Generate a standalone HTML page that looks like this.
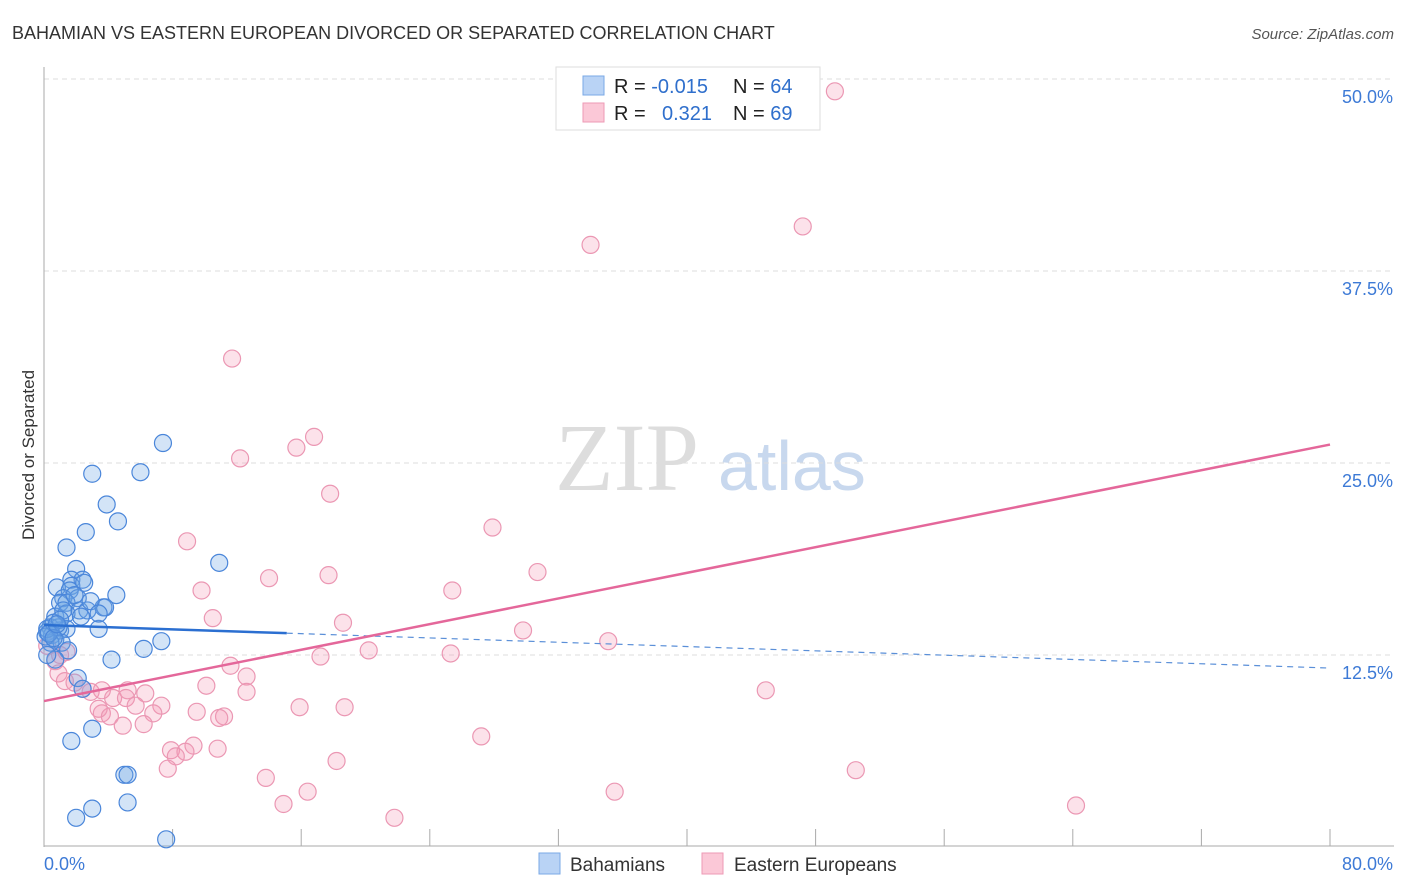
<!DOCTYPE html>
<html><head><meta charset="utf-8"><style>
body{margin:0;background:#fff;font-family:"Liberation Sans",sans-serif;}
#wrap{position:relative;width:1406px;height:892px;overflow:hidden;}
</style></head><body>
<div id="wrap">
<svg id="svg" width="1406" height="892" xmlns="http://www.w3.org/2000/svg">
<text x="12" y="39" font-size="18" fill="#333">BAHAMIAN VS EASTERN EUROPEAN DIVORCED OR SEPARATED CORRELATION CHART</text>
<text x="1394" y="39" font-size="15" fill="#555" font-style="italic" text-anchor="end">Source: ZipAtlas.com</text>
<text x="34" y="455" font-size="17" fill="#333" text-anchor="middle" transform="rotate(-90 34 455)">Divorced or Separated</text>
<text x="555" y="490" font-size="96" fill="#ddd" font-family="Liberation Serif,serif">ZIP</text>
<text x="718" y="490" font-size="70" fill="#c8d8ee">atlas</text>
<g id="grid"></g><g id="marks"></g>
<g>
<rect x="556" y="67" width="264" height="63" fill="#fff" stroke="#ddd"/>
<rect x="583" y="76" width="21" height="19" fill="#b9d3f5" stroke="#7aa8e6"/>
<rect x="583" y="103" width="21" height="19" fill="#fbc8d7" stroke="#ee9ab5"/>
<text x="614" y="93" font-size="20" fill="#222">R = <tspan fill="#2f6fcc">-0.015</tspan></text>
<text x="733" y="93" font-size="20" fill="#222">N = <tspan fill="#2f6fcc">64</tspan></text>
<text x="614" y="120" font-size="20" fill="#222">R = <tspan fill="#2f6fcc" x="662">0.321</tspan></text>
<text x="733" y="120" font-size="20" fill="#222">N = <tspan fill="#2f6fcc">69</tspan></text>
</g>
<g>
<rect x="539" y="853" width="21" height="21" fill="#b9d3f5" stroke="#7aa8e6"/>
<text x="570" y="871" font-size="19" fill="#333">Bahamians</text>
<rect x="702" y="853" width="21" height="21" fill="#fbc8d7" stroke="#ee9ab5"/>
<text x="734" y="871" font-size="19" fill="#333">Eastern Europeans</text>
</g>
</svg></div>
<script>
const yTicks=[12.5,25,37.5,50];
const yTickLabels=["12.5%","25.0%","37.5%","50.0%"];
const xTicks=[0,8,16,24,32,40,48,56,64,72,80];
const blueX=[7.4,3.0,6.0,3.9,4.6,2.6,1.4,10.9,2.0,1.7,2.4,1.7,0.8,1.6,1.2,2.1,4.5,1.0,1.4,0.7,2.2,2.7,3.7,3.8,1.4,3.4,0.4,1.0,1.4,0.2,0.5,0.7,1.1,1.5,0.4,7.3,6.2,4.2,0.7,2.1,2.4,1.7,3.0,5.0,5.2,5.2,3.0,2.0,7.6,0.2,0.1,0.9,0.6,0.2,2.5,2.9,1.9,1.2,0.3,0.6,1.0,2.3,3.4,0.8];
const blueY=[26.3,24.3,24.4,22.3,21.2,20.5,19.5,18.5,18.1,17.4,17.4,17.0,16.9,16.7,16.2,16.2,16.4,15.9,15.9,15.0,15.4,15.4,15.6,15.6,15.2,14.2,14.3,14.1,14.2,14.0,13.8,13.5,13.3,12.8,13.3,13.4,12.9,12.2,12.2,11.0,10.3,6.9,7.7,4.7,4.7,2.9,2.5,1.9,0.5,14.2,13.7,14.3,14.6,12.5,17.2,16.0,16.4,15.4,13.9,13.6,14.8,15.0,15.2,14.5];
const pinkX=[49.2,34.0,47.2,11.7,16.8,15.7,12.2,17.8,27.9,8.9,30.7,17.7,14.0,9.8,25.4,10.5,18.6,29.8,35.1,20.2,25.3,17.2,11.6,12.6,44.9,10.1,12.6,0.7,0.9,1.3,1.9,2.4,2.9,3.6,5.2,6.3,4.3,5.1,5.7,7.3,6.8,3.6,3.4,4.1,9.5,11.2,15.9,18.7,4.9,6.2,27.2,10.9,9.3,7.9,8.8,8.2,10.8,7.7,18.2,13.8,50.5,16.4,14.9,35.5,64.2,21.8,0.2,1.0,1.4];
const pinkY=[49.2,39.2,40.4,31.8,26.7,26.0,25.3,23.0,20.8,19.9,17.9,17.7,17.5,16.7,16.7,14.9,14.6,14.1,13.4,12.8,12.6,12.4,11.8,11.1,10.2,10.5,10.1,12.1,11.3,10.8,10.7,10.3,10.1,10.2,10.2,10.0,9.7,9.7,9.2,9.2,8.7,8.7,9.0,8.5,8.8,8.5,9.1,9.1,7.9,8.0,7.2,8.4,6.6,6.3,6.2,5.9,6.4,5.1,5.6,4.5,5.0,3.6,2.8,3.6,2.7,1.9,13.1,12.5,12.7];
const blueLine=[14.45,11.65];
const pinkLine=[9.5,26.2];
const NS="http://www.w3.org/2000/svg";
const X=v=>44+v/80*1286, Y=v=>847-v/12.5*192;
function mk(t,a,p){const e=document.createElementNS(NS,t);for(const k in a)e.setAttribute(k,a[k]);p.appendChild(e);return e;}
const grid=document.getElementById('grid'),marks=document.getElementById('marks');
yTicks.forEach((t,i)=>{
 const l=mk('line',{x1:44,x2:1394,y1:Y(t),y2:Y(t),stroke:'#ddd','stroke-dasharray':'5,4'},grid);
 
 
 const tx=mk('text',{x:1393,y:Y(t)+24,'font-size':18,fill:'#3d7ad6','text-anchor':'end'},grid);
 tx.textContent=yTickLabels[i];
 
 
});
const ax=mk('line',{x1:44,x2:44,y1:67,y2:847,stroke:'#aaa'},grid);


const bx=mk('line',{x1:44,x2:1394,y1:846,y2:846,stroke:'#aaa'},grid);


xTicks.forEach(t=>{const l=mk('line',{x1:X(t),x2:X(t),y1:829,y2:846,stroke:'#aaa'},grid);
 
 });
const xl0=mk('text',{x:44,y:870,'font-size':18,fill:'#3d7ad6'},grid);xl0.textContent='0.0%';


const xl1=mk('text',{x:1393,y:870,'font-size':18,fill:'#3d7ad6','text-anchor':'end'},grid);xl1.textContent='80.0%';


pinkX.forEach((v,i)=>{const c=mk('circle',{cx:X(v),cy:Y(pinkY[i]),r:8.5,fill:'rgba(245,150,180,0.28)',stroke:'#eb97b3','stroke-width':1.2},marks);
 
 });
blueX.forEach((v,i)=>{const c=mk('circle',{cx:X(v),cy:Y(blueY[i]),r:8.5,fill:'rgba(110,165,230,0.3)',stroke:'#4a86da','stroke-width':1.2},marks);
 
 });
const bl=t=>blueLine[0]+(blueLine[1]-blueLine[0])*t/80;
const l1=mk('line',{x1:X(0),y1:Y(bl(0)),x2:X(15.1),y2:Y(bl(15.1)),stroke:'#2b6fd1','stroke-width':2.5},marks);


const l2=mk('line',{x1:X(15.1),y1:Y(bl(15.1)),x2:X(80),y2:Y(bl(80)),stroke:'#5a8fd8','stroke-width':1.2,'stroke-dasharray':'6,5'},marks);


const l3=mk('line',{x1:X(0),y1:Y(pinkLine[0]),x2:X(80),y2:Y(pinkLine[1]),stroke:'#e4679a','stroke-width':2.5},marks);


</script>
</body></html>
